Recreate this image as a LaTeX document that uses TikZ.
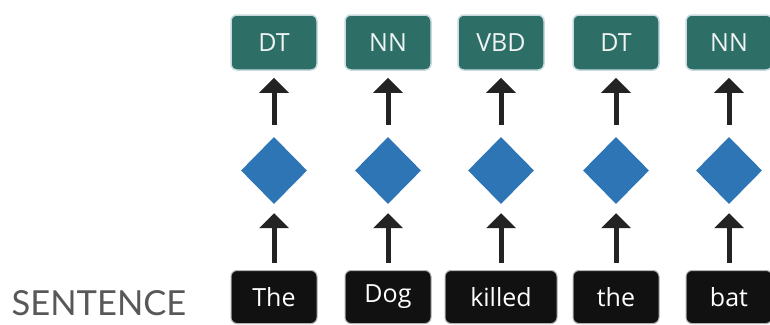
\documentclass[tikz,border=0pt]{standalone}
\usepackage{fontspec}
\setmainfont{Open Sans}
\newfontfamily\labfont{Lato}
\usetikzlibrary{shapes.geometric,arrows.meta}
\definecolor{tealbox}{RGB}{45,110,103}
\definecolor{tealedge}{RGB}{200,218,222}
\definecolor{wordbox}{RGB}{17,17,17}
\definecolor{diablue}{RGB}{46,117,182}
\definecolor{arrowc}{RGB}{35,35,35}
\definecolor{labgray}{RGB}{88,88,88}
\tikzset{
  tagbox/.style={draw=tealedge, line width=1.5pt, fill=tealbox, rounded corners=6pt,
    minimum width=86pt, minimum height=55pt, inner sep=0pt, text=white!92!tealbox,
    font=\fontsize{25pt}{25pt}\selectfont},
  wordboxst/.style={draw=gray!60, line width=1pt, fill=wordbox, rounded corners=6pt,
    minimum width=86pt, minimum height=53pt, inner sep=0pt, text=white,
    font=\fontsize{25pt}{25pt}\selectfont},
  dia/.style={diamond, fill=diablue, inner sep=0pt, minimum width=66pt, minimum height=67pt},
  arr/.style={draw=arrowc, line width=5pt, -{Triangle[width=29pt,length=15pt]}},
}
\begin{document}
\begin{tikzpicture}[x=1pt,y=-1pt]
\useasboundingbox (0,0) rectangle (770,324);
\foreach \i/\x/\tag/\word/\ww in {1/274/DT/The/86,2/388/NN/Dog/86,3/501/VBD/killed/112,4/616/DT/the/86,5/729/NN/bat/86}{
  \node[tagbox] (t\i) at (\x,42.5) {\tag};
  \node[dia] (d\i) at (\x,170.5) {};
  \node[wordboxst, minimum width=\ww pt, anchor=north] (w\i) at (\x,270) {\word};
  \draw[arr, shorten <=7pt, shorten >=9pt] (w\i.north) -- (d\i.south);
  \draw[arr, shorten <=12pt, shorten >=7pt] (d\i.north) -- (t\i.south);
}
\node[text=labgray, font=\labfont\fontsize{34.5pt}{34.5pt}\selectfont] (lab) at (99,303) {SENTENCE};
\end{tikzpicture}
\end{document}
